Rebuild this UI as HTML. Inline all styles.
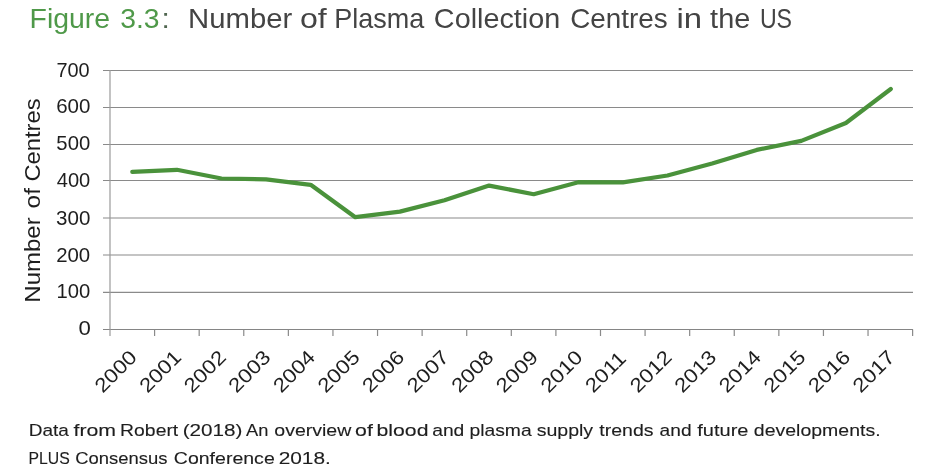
<!DOCTYPE html>
<html><head><meta charset="utf-8">
<style>
html,body{margin:0;padding:0;background:#fff;}
body{width:940px;height:473px;overflow:hidden;}
svg{display:block;}
#w{width:940px;height:473px;will-change:transform;}
text{font-family:"Liberation Sans",sans-serif;}
</style></head>
<body>
<div id="w"><svg width="940" height="473" viewBox="0 0 940 473">
<rect width="940" height="473" fill="#fff"/>
<text x="29.57" y="28.00" font-size="27.5" fill="#4f9949" textLength="80.49" lengthAdjust="spacingAndGlyphs">Figure</text>
<text x="120.23" y="28.00" font-size="27.5" fill="#4f9949" textLength="39.32" lengthAdjust="spacingAndGlyphs">3.3</text>
<text x="161.46" y="28.00" font-size="27.5" fill="#506650" textLength="8.28" lengthAdjust="spacingAndGlyphs">:</text>
<text x="188.10" y="28.00" font-size="27.5" fill="#444444" textLength="104.09" lengthAdjust="spacingAndGlyphs">Number</text>
<text x="299.95" y="28.00" font-size="27.5" fill="#444444" textLength="26.78" lengthAdjust="spacingAndGlyphs">of</text>
<text x="334.19" y="28.00" font-size="27.5" fill="#444444" textLength="90.03" lengthAdjust="spacingAndGlyphs">Plasma</text>
<text x="433.86" y="28.00" font-size="27.5" fill="#444444" textLength="126.31" lengthAdjust="spacingAndGlyphs">Collection</text>
<text x="570.21" y="28.00" font-size="27.5" fill="#444444" textLength="97.48" lengthAdjust="spacingAndGlyphs">Centres</text>
<text x="676.53" y="28.00" font-size="27.5" fill="#444444" textLength="25.58" lengthAdjust="spacingAndGlyphs">in</text>
<text x="710.14" y="28.00" font-size="27.5" fill="#444444" textLength="40.14" lengthAdjust="spacingAndGlyphs">the</text>
<text x="759.89" y="28.00" font-size="27.5" fill="#444444" textLength="32.15" lengthAdjust="spacingAndGlyphs">US</text>
<path d="M103 70.5H913M103 107.5H913M103 144.5H913M103 180.5H913M103 218H913M103 255H913M103 292.3H913" stroke="#8a8a8a" stroke-width="1.2" fill="none"/>
<path d="M103 329.5H913" stroke="#858585" stroke-width="1.2" fill="none"/>
<path d="M110 70V336" stroke="#9a9a9a" stroke-width="1.2" fill="none"/>
<path d="M154.59 329.5V336M199.18 329.5V336M243.77 329.5V336M288.36 329.5V336M332.95 329.5V336M377.54 329.5V336M422.13 329.5V336M466.72 329.5V336M511.31 329.5V336M555.90 329.5V336M600.49 329.5V336M645.08 329.5V336M689.67 329.5V336M734.26 329.5V336M778.85 329.5V336M823.44 329.5V336M868.03 329.5V336M912.62 329.5V336" stroke="#8a8a8a" stroke-width="1.2" fill="none"/>
<polyline fill="none" stroke="#4a923b" stroke-width="4.2" stroke-linejoin="round" stroke-linecap="round" points="132.30,171.80 176.90,169.80 221.50,178.50 266.10,179.40 310.70,184.80 355.30,217.20 399.90,211.60 444.50,200.30 489.10,185.60 533.70,194.20 578.30,182.20 622.90,182.30 667.50,175.50 712.10,163.50 756.70,149.90 801.30,140.90 845.90,123.00 890.80,89.00"/>
<text x="56.47" y="77.00" font-size="19.8" fill="#1e1e1e" textLength="33.20" lengthAdjust="spacingAndGlyphs">700</text>
<text x="56.17" y="113.00" font-size="19.8" fill="#1e1e1e" textLength="34.21" lengthAdjust="spacingAndGlyphs">600</text>
<text x="56.39" y="150.00" font-size="19.8" fill="#1e1e1e" textLength="33.79" lengthAdjust="spacingAndGlyphs">500</text>
<text x="56.76" y="187.40" font-size="19.8" fill="#1e1e1e" textLength="33.51" lengthAdjust="spacingAndGlyphs">400</text>
<text x="56.12" y="224.80" font-size="19.8" fill="#1e1e1e" textLength="34.27" lengthAdjust="spacingAndGlyphs">300</text>
<text x="56.18" y="261.90" font-size="19.8" fill="#1e1e1e" textLength="34.00" lengthAdjust="spacingAndGlyphs">200</text>
<text x="56.46" y="297.90" font-size="19.8" fill="#1e1e1e" textLength="33.71" lengthAdjust="spacingAndGlyphs">100</text>
<text x="78.61" y="334.70" font-size="19.8" fill="#1e1e1e" textLength="12.33" lengthAdjust="spacingAndGlyphs">0</text>
<text transform="translate(40.00,302.67) rotate(-90)" font-size="22.5" fill="#1e1e1e" textLength="85.37" lengthAdjust="spacingAndGlyphs">Number</text>
<text transform="translate(40.00,208.53) rotate(-90)" font-size="22.5" fill="#1e1e1e" textLength="20.48" lengthAdjust="spacingAndGlyphs">of</text>
<text transform="translate(40.00,181.59) rotate(-90)" font-size="22.5" fill="#1e1e1e" textLength="83.13" lengthAdjust="spacingAndGlyphs">Centres</text>
<text transform="translate(102.81,393.69) rotate(-45)" font-size="19.8" fill="#1e1e1e" textLength="49.77" lengthAdjust="spacingAndGlyphs">2000</text>
<text transform="translate(147.40,393.69) rotate(-45)" font-size="19.8" fill="#1e1e1e" textLength="49.77" lengthAdjust="spacingAndGlyphs">2001</text>
<text transform="translate(191.99,393.69) rotate(-45)" font-size="19.8" fill="#1e1e1e" textLength="49.77" lengthAdjust="spacingAndGlyphs">2002</text>
<text transform="translate(236.58,393.69) rotate(-45)" font-size="19.8" fill="#1e1e1e" textLength="49.77" lengthAdjust="spacingAndGlyphs">2003</text>
<text transform="translate(281.17,393.69) rotate(-45)" font-size="19.8" fill="#1e1e1e" textLength="49.77" lengthAdjust="spacingAndGlyphs">2004</text>
<text transform="translate(325.76,393.69) rotate(-45)" font-size="19.8" fill="#1e1e1e" textLength="49.77" lengthAdjust="spacingAndGlyphs">2005</text>
<text transform="translate(370.35,393.69) rotate(-45)" font-size="19.8" fill="#1e1e1e" textLength="49.77" lengthAdjust="spacingAndGlyphs">2006</text>
<text transform="translate(414.94,393.69) rotate(-45)" font-size="19.8" fill="#1e1e1e" textLength="49.77" lengthAdjust="spacingAndGlyphs">2007</text>
<text transform="translate(459.53,393.69) rotate(-45)" font-size="19.8" fill="#1e1e1e" textLength="49.77" lengthAdjust="spacingAndGlyphs">2008</text>
<text transform="translate(504.12,393.69) rotate(-45)" font-size="19.8" fill="#1e1e1e" textLength="49.77" lengthAdjust="spacingAndGlyphs">2009</text>
<text transform="translate(548.71,393.69) rotate(-45)" font-size="19.8" fill="#1e1e1e" textLength="49.77" lengthAdjust="spacingAndGlyphs">2010</text>
<text transform="translate(593.30,393.69) rotate(-45)" font-size="19.8" fill="#1e1e1e" textLength="48.11" lengthAdjust="spacingAndGlyphs">2011</text>
<text transform="translate(637.89,393.69) rotate(-45)" font-size="19.8" fill="#1e1e1e" textLength="49.77" lengthAdjust="spacingAndGlyphs">2012</text>
<text transform="translate(682.48,393.69) rotate(-45)" font-size="19.8" fill="#1e1e1e" textLength="49.77" lengthAdjust="spacingAndGlyphs">2013</text>
<text transform="translate(727.07,393.69) rotate(-45)" font-size="19.8" fill="#1e1e1e" textLength="49.77" lengthAdjust="spacingAndGlyphs">2014</text>
<text transform="translate(771.66,393.69) rotate(-45)" font-size="19.8" fill="#1e1e1e" textLength="49.77" lengthAdjust="spacingAndGlyphs">2015</text>
<text transform="translate(816.25,393.69) rotate(-45)" font-size="19.8" fill="#1e1e1e" textLength="49.77" lengthAdjust="spacingAndGlyphs">2016</text>
<text transform="translate(860.84,393.69) rotate(-45)" font-size="19.8" fill="#1e1e1e" textLength="49.77" lengthAdjust="spacingAndGlyphs">2017</text>
<text x="28.74" y="435.80" font-size="17.0" fill="#1e1e1e" textLength="40.17" lengthAdjust="spacingAndGlyphs" stroke="#1e1e1e" stroke-width="0.12">Data</text>
<text x="73.50" y="435.80" font-size="17.0" fill="#1e1e1e" textLength="42.56" lengthAdjust="spacingAndGlyphs" stroke="#1e1e1e" stroke-width="0.12">from</text>
<text x="120.11" y="435.80" font-size="17.0" fill="#1e1e1e" textLength="58.13" lengthAdjust="spacingAndGlyphs" stroke="#1e1e1e" stroke-width="0.12">Robert</text>
<text x="182.72" y="435.80" font-size="17.0" fill="#1e1e1e" textLength="59.78" lengthAdjust="spacingAndGlyphs" stroke="#1e1e1e" stroke-width="0.12">(2018)</text>
<text x="245.96" y="435.80" font-size="17.0" fill="#1e1e1e" textLength="22.39" lengthAdjust="spacingAndGlyphs" stroke="#1e1e1e" stroke-width="0.12">An</text>
<text x="274.28" y="435.80" font-size="17.0" fill="#1e1e1e" textLength="77.08" lengthAdjust="spacingAndGlyphs" stroke="#1e1e1e" stroke-width="0.12">overview</text>
<text x="355.11" y="435.80" font-size="17.0" fill="#1e1e1e" textLength="17.75" lengthAdjust="spacingAndGlyphs" stroke="#1e1e1e" stroke-width="0.12">of</text>
<text x="376.54" y="435.80" font-size="17.0" fill="#1e1e1e" textLength="51.93" lengthAdjust="spacingAndGlyphs" stroke="#1e1e1e" stroke-width="0.12">blood</text>
<text x="432.19" y="435.80" font-size="17.0" fill="#1e1e1e" textLength="32.15" lengthAdjust="spacingAndGlyphs" stroke="#1e1e1e" stroke-width="0.12">and</text>
<text x="469.46" y="435.80" font-size="17.0" fill="#1e1e1e" textLength="62.23" lengthAdjust="spacingAndGlyphs" stroke="#1e1e1e" stroke-width="0.12">plasma</text>
<text x="536.65" y="435.80" font-size="17.0" fill="#1e1e1e" textLength="56.50" lengthAdjust="spacingAndGlyphs" stroke="#1e1e1e" stroke-width="0.12">supply</text>
<text x="599.29" y="435.80" font-size="17.0" fill="#1e1e1e" textLength="54.20" lengthAdjust="spacingAndGlyphs" stroke="#1e1e1e" stroke-width="0.12">trends</text>
<text x="659.60" y="435.80" font-size="17.0" fill="#1e1e1e" textLength="31.94" lengthAdjust="spacingAndGlyphs" stroke="#1e1e1e" stroke-width="0.12">and</text>
<text x="697.32" y="435.80" font-size="17.0" fill="#1e1e1e" textLength="51.14" lengthAdjust="spacingAndGlyphs" stroke="#1e1e1e" stroke-width="0.12">future</text>
<text x="753.88" y="435.80" font-size="17.0" fill="#1e1e1e" textLength="126.71" lengthAdjust="spacingAndGlyphs" stroke="#1e1e1e" stroke-width="0.12">developments.</text>
<text x="28.50" y="463.70" font-size="17.0" fill="#1e1e1e" textLength="41.30" lengthAdjust="spacingAndGlyphs" stroke="#1e1e1e" stroke-width="0.12">PLUS</text>
<text x="75.18" y="463.70" font-size="17.0" fill="#1e1e1e" textLength="92.30" lengthAdjust="spacingAndGlyphs" stroke="#1e1e1e" stroke-width="0.12">Consensus</text>
<text x="173.82" y="463.70" font-size="17.0" fill="#1e1e1e" textLength="100.93" lengthAdjust="spacingAndGlyphs" stroke="#1e1e1e" stroke-width="0.12">Conference</text>
<text x="278.66" y="463.70" font-size="17.0" fill="#1e1e1e" textLength="52.17" lengthAdjust="spacingAndGlyphs" stroke="#1e1e1e" stroke-width="0.12">2018.</text>
</svg></div>
</body></html>
